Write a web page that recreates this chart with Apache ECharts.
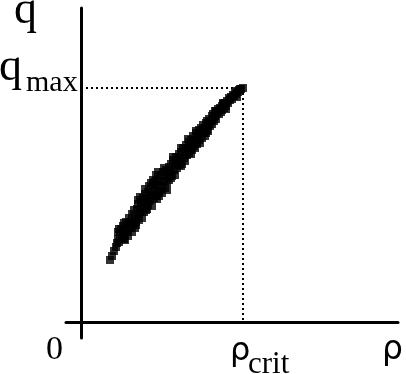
<!DOCTYPE html>
<html>
<head>
<meta charset="utf-8">
<script src="https://cdn.jsdelivr.net/npm/echarts@6/dist/echarts.min.js"></script>
<style>
html,body{margin:0;padding:0;background:#fff;}
#c{width:406px;height:374px;}
</style>
</head>
<body>
<div id="c"></div>
<script>
// Axis extents (arbitrary units)
const xRange = [-15, 317];
const yRange = [-16, 314];
const rhoCrit = 162;
const qMax = 234;

// Measured flow-density points (density, flow)
const density = [
29,31,33,35,36,37,
38,39,40,41, 42,43,44,44, 45,46,47,47, 48,49,50,51,51, 52,53,54,54,
55,56,57,57, 58,59,60,61,61, 62,63,64,64, 65,66,67,67, 68,69,70,71,71,
72,73,74,74, 75,76,77,77, 78,79,80,81,81, 82,83,84,84, 85,86,87,88,
88,89,90,91, 92,93,94,94, 95,96,97,98, 98,99,100,101, 102,103,104,104,
105,106,107,108, 108,109,110,111, 112,113,114,114, 115,116,117,118,
118,119,120,121, 122,123,124,124, 125,126,127,128, 129,130,131,131,
132,133,134,134, 135,136,137,138, 139,140,141,141, 142,143,144,145,
146,147,148,149, 150,151,152,153, 154,155,156,157,158,159,160,162,
37,38,43,57,59,70,75,77,83,92,100,107,115,126,135,142,
43,55,66,76,78,90,100,110,119,127,116,125,145,156,
64,68,72,86
];
const flow = [
62,66,71,75,79,83,
80,88,93,84, 96,88,82,93, 100,90,97,86, 104,94,100,108,90, 98,112,104,94,
100,113,107,118, 102,110,120,115,104, 124,110,119,128, 112,123,130,117, 136,122,130,116,127,
138,124,132,140, 126,137,143,130, 131,140,147,136,129, 150,141,134,146, 152,140,148,155,
142,150,158,146, 162,152,158,147, 165,154,161,168, 157,163,170,158, 174,164,170,161,
177,167,173,180, 169,176,182,172, 186,176,182,174, 189,180,186,192,
182,188,194,184, 197,189,194,186, 199,192,197,203, 196,201,206,198,
208,201,206,211, 203,209,213,208, 214,210,216,212, 218,214,219,216,
221,219,224,222, 225,223,227,226, 229,228,231,230,232,233,233,234,
90,93,99,122,125,139,147,150,154,165,174,183,191,201,211,219,
83,97,113,123,126,144,156,168,179,191,178,189,213,225,
133,121,142,132
];

const points = density.map((d, i) => [d, flow[i]]);

const chart = echarts.init(document.getElementById('c'), null, {renderer: 'canvas'});

const hidden = {show: false};
chart.setOption({
  animation: false,
  backgroundColor: '#fff',
  grid: {left: 66, right: 8, top: 8, bottom: 36, containLabel: false},
  xAxis: {
    type: 'value', min: xRange[0], max: xRange[1],
    axisLine: {show: true, onZero: true, lineStyle: {color: '#000', width: 3}},
    axisTick: hidden, axisLabel: hidden, splitLine: hidden
  },
  yAxis: {
    type: 'value', min: yRange[0], max: yRange[1],
    axisLine: {show: true, onZero: true, lineStyle: {color: '#000', width: 3}},
    axisTick: hidden, axisLabel: hidden, splitLine: hidden
  },
  series: [{
    type: 'scatter',
    data: points,
    symbol: 'rect',
    symbolSize: 8,
    itemStyle: {color: '#000'},
    silent: true,
    markLine: {
      silent: true,
      symbol: 'none',
      label: {show: false},
      lineStyle: {color: '#000', width: 2, type: [2, 3]},
      data: [
        [{coord: [0, qMax]}, {coord: [rhoCrit, qMax]}],
        [{coord: [rhoCrit, qMax]}, {coord: [rhoCrit, 0]}]
      ]
    }
  }]
});

const O = chart.convertToPixel({gridIndex: 0}, [0, 0]);
const C = chart.convertToPixel({gridIndex: 0}, [rhoCrit, qMax]);
const E = chart.convertToPixel({gridIndex: 0}, [xRange[1], yRange[1]]);
const serif = '"Liberation Serif", "Times New Roman", serif';
const sans = '"DejaVu Sans", sans-serif';
function t(text, x, y, size, family, align) {
  return {type: 'text', x: x, y: y, z: 100, silent: true,
    style: {text: text, fill: '#000', font: size + 'px ' + family,
      align: align || 'left', verticalAlign: 'middle'}};
}
chart.setOption({
  graphic: [
    t('q', O[0] - 67, E[1] + 3, 46, serif),
    t('q', O[0] - 82, C[1] - 20, 46, serif),
    t('max', O[0] - 55, C[1] - 5, 30, serif),
    t('ρ', C[0] - 13, O[1] + 30, 32, sans),
    t('crit', C[0] + 5, O[1] + 43, 31, serif),
    t('ρ', E[0] - 16, O[1] + 28, 33, sans),
    t('0', O[0] - 18, O[1] + 28, 34, serif, 'right')
  ]
});
</script>
</body>
</html>
